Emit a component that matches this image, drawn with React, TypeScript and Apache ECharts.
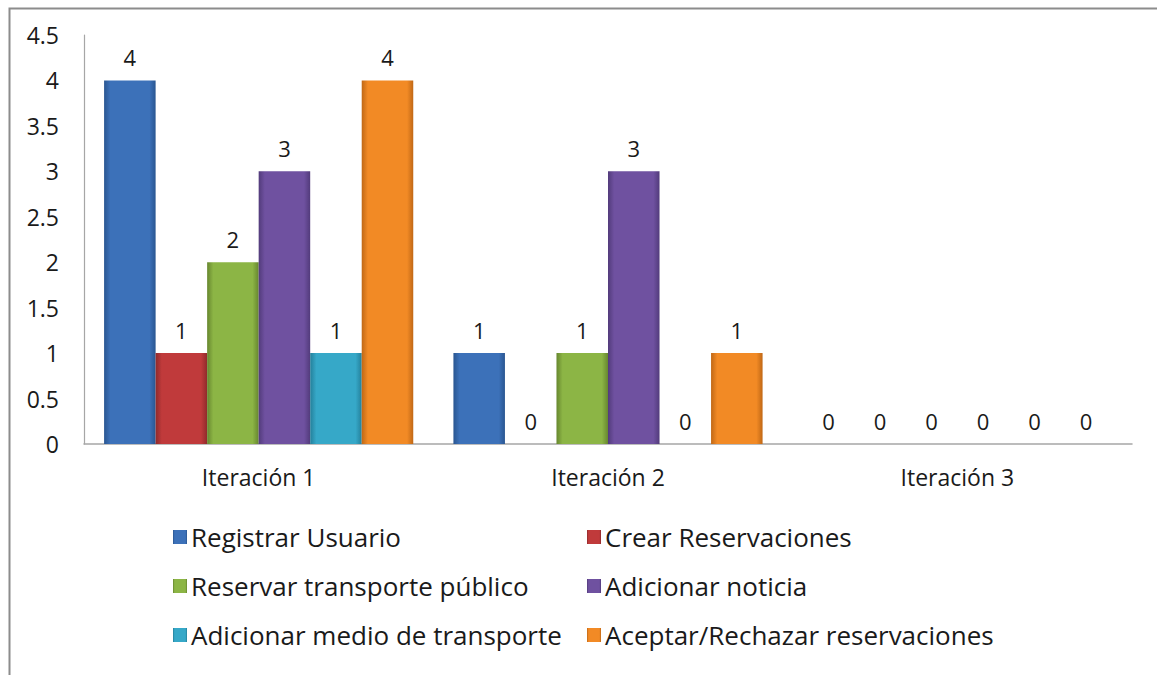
import React, { useEffect, useRef } from "react";
import * as echarts from "echarts";

const categories = ["Iteración 1", "Iteración 2", "Iteración 3"];
const seriesNames = [
  "Registrar Usuario",
  "Crear Reservaciones",
  "Reservar transporte público",
  "Adicionar noticia",
  "Adicionar medio de transporte",
  "Aceptar/Rechazar reservaciones",
];
const registrarUsuario = [4, 1, 0];
const crearReservaciones = [1, 0, 0];
const reservarTransporte = [2, 1, 0];
const adicionarNoticia = [3, 3, 0];
const adicionarMedio = [1, 0, 0];
const aceptarRechazar = [4, 1, 0];
const seriesValues = [
  registrarUsuario,
  crearReservaciones,
  reservarTransporte,
  adicionarNoticia,
  adicionarMedio,
  aceptarRechazar,
];
const palette = [
  { main: "#3c71b9", dark: "#2a5691" },
  { main: "#c03a3b", dark: "#8f2a2b" },
  { main: "#8cb545", dark: "#67872f" },
  { main: "#6f51a0", dark: "#523b7b" },
  { main: "#36a8c8", dark: "#24809b" },
  { main: "#f28a25", dark: "#c06816" },
];

const FONT = "'Open Sans', sans-serif";

export default function App() {
  const ref = useRef<HTMLDivElement>(null);
  useEffect(() => {
    if (!ref.current) return;
    const chart = echarts.init(ref.current, null, { renderer: "svg" });
    const series = seriesValues.map((vals, i) => ({
      name: seriesNames[i],
      type: "bar",
      data: vals,
      barGap: "0%",
      barCategoryGap: "11.5%",
      itemStyle: {
        color: new echarts.graphic.LinearGradient(1, 0, 0, 0, [
          { offset: 0, color: palette[i].dark },
          { offset: 0.12, color: palette[i].main },
          { offset: 0.88, color: palette[i].main },
          { offset: 1, color: palette[i].dark },
        ]),
      },
      label: {
        show: true,
        position: "top",
        distance: 12,
        color: "#1a1a1a",
        fontFamily: FONT,
        fontSize: 22,
      },
    }));
    const legendCommon = {
      orient: "vertical",
      itemWidth: 14,
      itemHeight: 14,
      itemGap: 23,
      icon: "rect",
      textStyle: { fontFamily: FONT, fontSize: 26, color: "#1a1a1a", padding: [0, 0, 0, -1] },
    };
    chart.setOption({
      animation: false,
      backgroundColor: "#ffffff",
      grid: { left: 84, right: 25, top: 35, bottom: 231, containLabel: false },
      legend: [
        { ...legendCommon, left: 168, top: 519, data: [seriesNames[0], seriesNames[2], seriesNames[4]] },
        { ...legendCommon, left: 582, top: 519, data: [seriesNames[1], seriesNames[3], seriesNames[5]] },
      ],
      xAxis: {
        type: "category",
        data: categories,
        axisLine: { show: true, lineStyle: { color: "#a6a6a6", width: 1.5 } },
        axisTick: { show: false },
        axisLabel: { margin: 21, color: "#1a1a1a", fontFamily: FONT, fontSize: 23 },
      },
      yAxis: {
        type: "value",
        min: 0,
        max: 4.5,
        interval: 0.5,
        splitLine: { show: false },
        axisLine: { show: true, lineStyle: { color: "#a6a6a6", width: 1.2 } },
        axisTick: { show: false },
        axisLabel: { margin: 25, color: "#1a1a1a", fontFamily: FONT, fontSize: 23 },
      },
      graphic: [
        {
          type: "rect",
          left: 7,
          top: 6,
          shape: { x: 0, y: 0, width: 1170, height: 690 },
          style: { fill: "none", stroke: "#8c8c8c", lineWidth: 2 },
          silent: true,
        },
      ],
      series,
    });
    return () => chart.dispose();
  }, []);
  return (
    <div
      ref={ref}
      style={{ position: "fixed", left: 0, top: 0, width: 1157, height: 675, background: "#fff" }}
    />
  );
}
